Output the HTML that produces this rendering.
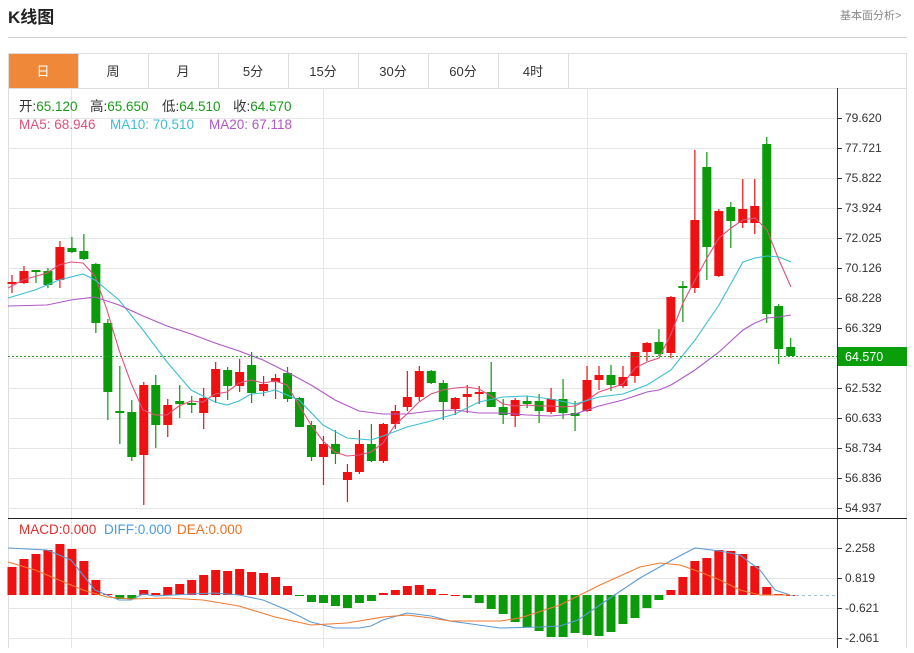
<!DOCTYPE html>
<html><head><meta charset="utf-8"><style>
body{margin:0;background:#fff;width:914px;height:648px;overflow:hidden;font-family:"Liberation Sans","Noto Sans CJK SC",sans-serif;}
</style></head><body>
<svg id="s" width="914" height="648" xmlns="http://www.w3.org/2000/svg" font-family="Liberation Sans, Noto Sans CJK SC, sans-serif">
<text x="8" y="23" font-size="17" font-weight="bold" fill="#222">K线图</text>
<text x="840" y="19" font-size="11" fill="#888">基本面分析&gt;</text>
<line x1="8" y1="37.5" x2="907" y2="37.5" stroke="#ccc"/>
<rect x="8.5" y="53.5" width="898" height="600" fill="none" stroke="#ddd"/>
<line x1="8" y1="88.5" x2="907" y2="88.5" stroke="#ddd"/>
<rect x="9" y="54" width="69" height="34" fill="#f0883a"/>
<g font-size="13" text-anchor="middle" fill="#333">
<text x="43" y="76" fill="#fff">日</text><text x="113" y="76">周</text><text x="183" y="76">月</text><text x="253" y="76">5分</text><text x="323" y="76">15分</text><text x="393" y="76">30分</text><text x="463" y="76">60分</text><text x="533" y="76">4时</text>
</g>
<g stroke="#ddd"><line x1="78.5" y1="54" x2="78.5" y2="88"/><line x1="148.5" y1="54" x2="148.5" y2="88"/><line x1="218.5" y1="54" x2="218.5" y2="88"/><line x1="288.5" y1="54" x2="288.5" y2="88"/><line x1="358.5" y1="54" x2="358.5" y2="88"/><line x1="428.5" y1="54" x2="428.5" y2="88"/><line x1="498.5" y1="54" x2="498.5" y2="88"/><line x1="568.5" y1="54" x2="568.5" y2="88"/></g>
<g id="grid" stroke="#e6e6e6"></g>
<line x1="837.5" y1="88" x2="837.5" y2="648" stroke="#333"/>
<line x1="8" y1="518.5" x2="907" y2="518.5" stroke="#222"/>
<g id="plot"></g>
<line x1="8" y1="356.5" x2="837" y2="356.5" stroke="#2a9d2a" stroke-dasharray="2,2"/>
<line x1="790" y1="595.5" x2="837" y2="595.5" stroke="#9cc3e0" stroke-dasharray="3,3"/>
<rect x="838" y="347" width="69" height="19" fill="#0a9e0a"/>
<text x="845" y="361" font-size="12.5" fill="#fff">64.570</text>
<g font-size="13.5">
<text x="19" y="111" fill="#333">开:<tspan fill="#1a9a1a">65.120</tspan></text>
<text x="90" y="111" fill="#333">高:<tspan fill="#1a9a1a">65.650</tspan></text>
<text x="162" y="111" fill="#333">低:<tspan fill="#1a9a1a">64.510</tspan></text>
<text x="233" y="111" fill="#333">收:<tspan fill="#1a9a1a">64.570</tspan></text>
<text x="19" y="129" fill="#e0507a">MA5: 68.946</text>
<text x="110" y="129" fill="#3bbfd0">MA10: 70.510</text>
<text x="209" y="129" fill="#b057c6">MA20: 67.118</text>
<text x="19" y="534" fill="#e03030">MACD:0.000</text>
<text x="104" y="534" fill="#4a9ae0">DIFF:0.000</text>
<text x="177" y="534" fill="#f07020">DEA:0.000</text>
</g>
<g id="lab" font-size="12" fill="#333"></g>
</svg>
<script>
var NS="http://www.w3.org/2000/svg";
function el(p,t,a){var e=document.createElementNS(NS,t);for(var k in a)e.setAttribute(k,a[k]);p.appendChild(e);return e;}
var g=document.getElementById('grid'),pl=document.getElementById('plot'),lb=document.getElementById('lab');
var pl_=[["79.620",118],["77.721",148],["75.822",178],["73.924",208],["72.025",238],["70.126",268],["68.228",298],["66.329",328],["",358],["62.532",388],["60.633",418],["58.734",448],["56.836",478],["54.937",508]];
pl_.forEach(function(a){el(g,'line',{x1:8,x2:837,y1:a[1]+.5,y2:a[1]+.5});if(a[0]){el(lb,'line',{x1:837,x2:842,y1:a[1]+.5,y2:a[1]+.5,stroke:'#333'});el(lb,'text',{x:845,y:a[1]+4}).textContent=a[0];}});
[["2.258",548],["0.819",578],["-0.621",608],["-2.061",638]].forEach(function(a){el(g,'line',{x1:8,x2:837,y1:a[1]+.5,y2:a[1]+.5});el(lb,'line',{x1:837,x2:842,y1:a[1]+.5,y2:a[1]+.5,stroke:'#333'});el(lb,'text',{x:845,y:a[1]+4}).textContent=a[0];});
[71,323,587].forEach(function(x){el(g,'line',{x1:x+.5,x2:x+.5,y1:88,y2:648});});
var C=[[1,282,284,275,293],[1,271,283,266,284],[0,270,272,270,283],[0,271,285,268,288],[1,247,280,241,288],[0,248,252,237,253],[0,251,259,234,260],[0,264,323,263,333],[0,323,392,319,420],[0,411,413,366,444],[0,412,457,400,461],[1,385,455,382,505],[0,385,425,375,448],[1,405,425,399,437],[0,401,404,385,418],[0,403,405,396,413],[1,398,413,388,429],[1,369,397,362,403],[0,370,386,367,400],[1,372,386,359,392],[0,365,393,352,403],[1,384,391,376,396],[1,378,382,374,399],[0,373,399,367,402],[0,398,427,397,427],[0,425,457,421,461],[1,444,457,436,485],[0,444,454,430,464],[1,472,480,464,502],[1,444,472,430,474],[0,444,461,424,462],[1,424,461,423,463],[1,411,424,405,429],[1,397,407,371,411],[1,371,397,366,401],[0,371,383,370,384],[0,383,402,380,420],[1,398,409,397,415],[1,394,397,385,413],[1,392,394,386,404],[0,392,407,362,407],[0,407,415,399,424],[1,400,416,398,427],[0,401,404,396,408],[0,401,411,394,423],[1,399,412,388,414],[0,399,413,379,419],[0,413,416,401,431],[1,380,411,366,412],[1,375,380,366,390],[0,375,385,365,391],[1,377,386,366,388],[1,352,376,352,383],[1,343,352,342,361],[0,342,354,329,356],[1,297,353,296,358],[0,286,288,281,322],[1,220,288,150,293],[0,167,247,152,280],[1,211,276,209,277],[0,207,221,202,248],[1,209,223,179,228],[1,206,223,179,234],[0,144,314,137,323],[0,306,349,304,364],[0,347,356,338,356]];
function X(i){return 12+i*11.98;}
C.forEach(function(c,i){var x=X(i),col=c[0]?'#ee1111':'#0a9a0a';
el(pl,'line',{x1:x,x2:x,y1:c[3],y2:c[4],stroke:col,'stroke-width':1.2});
el(pl,'rect',{x:x-4.5,y:c[1],width:9,height:Math.max(1.5,c[2]-c[1]),fill:col});});
var M=[567,559,554,550,544,549,561,580,594,599,599,590,593,587,584,580,575,570,571,569,572,573,577,586,596,602,603,606,608,603,601,593,590,586,585,589,594,595,598,603,609,614,622,627,631,637,637,633,635,636,632,624,618,608,600,590,577,561,558,550,551,554,566,587,594,595];
M.forEach(function(v,i){var x=X(i),col=v<=595?'#ee1111':'#0a9a0a';var y1=Math.min(v,595),h=Math.max(1,Math.abs(v-595));el(pl,'rect',{x:x-4.5,y:y1,width:9,height:h,fill:col});});
function line(pts,col){el(pl,'polyline',{points:pts.map(function(p){return p.join(',')}).join(' '),fill:'none',stroke:col,'stroke-width':1.1});}
line([[8,288],[23,280],[47,273],[59,265],[71,262],[83,263],[95,276],[107,310],[119,350],[131,383],[143,410],[155,415],[167,415],[179,406],[191,401],[203,402],[215,394],[227,392],[239,383],[251,380],[263,383],[275,381],[287,385],[299,405],[311,425],[323,441],[335,452],[347,456],[359,455],[371,452],[383,443],[395,425],[407,414],[419,402],[431,394],[443,390],[455,388],[467,387],[479,389],[491,396],[503,404],[515,406],[527,405],[539,406],[551,406],[563,407],[575,406],[587,400],[599,392],[611,388],[623,384],[635,368],[647,362],[659,358],[671,334],[683,303],[695,280],[707,258],[719,238],[731,228],[743,220],[755,218],[767,230],[779,260],[791,287]],'#e0507a');
line([[8,298],[35,290],[59,280],[83,274],[95,280],[119,300],[143,330],[167,362],[191,390],[203,396],[215,402],[227,405],[239,401],[251,394],[263,393],[275,390],[299,400],[323,425],[347,438],[371,440],[383,436],[407,427],[431,421],[455,414],[479,402],[503,397],[527,396],[551,399],[575,404],[599,397],[623,394],[647,385],[671,370],[695,340],[719,305],[743,262],[755,258],[767,256],[779,257],[791,262]],'#3bbfd0');
line([[8,306],[47,305],[71,300],[95,297],[119,305],[143,316],[167,326],[191,334],[215,343],[239,351],[263,360],[287,372],[311,385],[335,400],[359,411],[383,414],[407,414],[431,411],[455,410],[479,413],[503,413],[527,415],[551,416],[575,414],[599,406],[623,400],[647,392],[659,390],[671,385],[695,370],[719,352],[743,330],[755,323],[767,318],[779,317],[791,315]],'#b057c6');
line([[8,548],[47,550],[59,555],[71,560],[83,575],[95,590],[107,595],[119,600],[131,600],[143,594],[155,596],[191,594],[215,593],[239,595],[263,600],[287,610],[311,622],[335,628],[359,628],[371,626],[383,620],[407,613],[431,616],[450,621],[500,628],[540,627],[560,626],[578,620],[610,598],[640,578],[672,560],[695,548],[720,551],[740,555],[760,570],[775,590],[790,595]],'#5b9bd5');
line([[8,562],[35,570],[59,580],[83,590],[107,597],[131,599],[167,598],[203,600],[239,606],[275,617],[311,625],[347,623],[383,617],[407,615],[431,618],[450,621],[500,621],[520,618],[560,605],[600,585],[640,567],[660,563],[680,565],[700,572],[720,580],[740,590],[760,595],[790,595]],'#f07a30');
</script>
</body></html>
